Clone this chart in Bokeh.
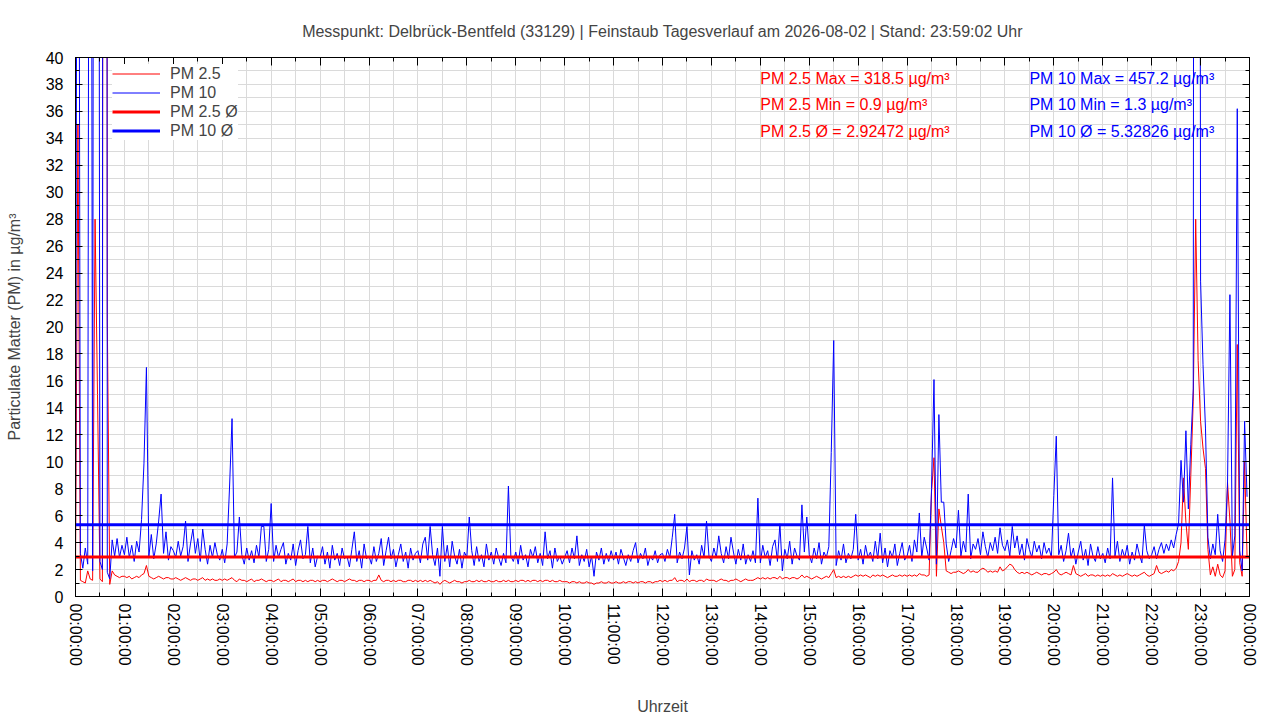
import numpy as np
from bokeh.plotting import figure
from bokeh.models import FixedTicker, LinearAxis, Range1d, Legend, LegendItem
from bokeh.core.properties import value
from bokeh.embed import file_html
from bokeh.resources import INLINE

title_text = "Messpunkt: Delbrück-Bentfeld (33129) | Feinstaub Tagesverlauf am 2026-08-02 | Stand: 23:59:02 Uhr"
x_title = "Uhrzeit"
y_title = "Particulate Matter (PM) in µg/m³"

sample_minutes = 3

# PM 10 readings, one row per hour (3-minute samples)
pm10 = [
    4.0, 95.0, 3.2, 2.1, 3.6, 2.4, 120.0, 1.9, 180.0, 140.0, 2.6, 2.0, 457.2, 1.8, 1.3, 4.2, 3.0, 4.3, 2.9, 3.8,
    3.1, 4.4, 2.9, 3.8, 2.6, 4.1, 3.3, 5.7, 9.9, 17.0, 3.0, 4.6, 2.8, 3.9, 5.6, 7.6, 3.2, 4.8, 2.7, 3.7,
    3.4, 2.9, 4.1, 3.0, 3.7, 5.6, 2.6, 3.9, 5.0, 3.2, 4.3, 2.6, 5.0, 3.5, 2.4, 3.8, 2.9, 4.0, 3.1, 2.7,
    3.5, 2.5, 3.9, 8.2, 13.2, 2.9, 3.3, 5.9, 3.1, 2.4, 3.6, 2.7, 3.4, 2.5, 3.8, 2.9, 5.2, 5.2, 2.6, 3.5,
    6.9, 2.6, 3.8, 2.9, 3.5, 4.0, 2.4, 3.2, 2.7, 3.9, 2.3, 3.4, 4.2, 2.8, 3.1, 5.2, 2.5, 3.6, 2.2, 3.0,
    2.9, 3.7, 2.4, 3.3, 2.1, 3.8, 2.7, 3.2, 2.3, 3.6, 2.8, 3.0, 2.2, 3.5, 4.8, 2.6, 3.4, 2.1, 3.9, 2.8,
    3.0, 2.4, 3.7, 2.6, 3.2, 4.3, 2.3, 3.4, 4.4, 2.8, 3.5, 2.2, 3.1, 3.9, 2.6, 3.3, 2.1, 3.6, 2.7, 3.2,
    3.4, 2.5, 3.9, 4.4, 2.7, 5.2, 3.1, 2.3, 3.6, 1.5, 5.2, 2.6, 3.8, 2.2, 4.1, 3.0, 2.4, 3.5, 2.1, 3.3,
    2.9, 5.9, 3.4, 2.3, 3.7, 2.6, 3.1, 2.2, 3.9, 2.7, 3.3, 2.4, 3.6, 2.9, 2.3, 3.2, 2.5, 8.2, 3.0, 2.6,
    3.3, 2.4, 3.8, 2.7, 3.1, 2.2, 3.5, 2.9, 3.7, 2.5, 3.2, 2.3, 4.8, 2.8, 3.4, 2.1, 3.6, 2.6, 3.0, 2.4,
    2.9, 3.4, 2.5, 3.6, 2.8, 4.5, 2.3, 3.1, 2.6, 3.5, 2.2, 3.0, 1.5, 3.3, 2.7, 3.6, 2.4, 3.2, 2.6, 3.4,
    2.7, 3.3, 2.4, 3.5, 2.9, 2.3, 3.1, 2.6, 3.4, 4.0, 2.5, 3.2, 2.8, 3.6, 2.3, 3.0, 2.7, 3.4, 2.5, 3.1,
    3.2, 2.6, 3.5, 2.9, 4.4, 6.1, 2.5, 3.3, 2.8, 3.6, 5.2, 1.6, 3.4, 2.7, 3.1, 2.4, 3.8, 2.9, 5.6, 3.0,
    2.6, 3.6, 2.9, 4.5, 3.2, 2.5, 3.7, 2.8, 4.4, 3.3, 2.4, 3.5, 2.7, 3.9, 2.4, 3.1, 2.6, 3.4, 2.5, 7.3,
    2.5, 3.8, 2.9, 3.4, 2.3, 3.7, 4.2, 2.6, 5.4, 1.9, 3.5, 2.8, 4.1, 2.4, 3.6, 3.0, 2.7, 6.8, 3.3, 5.9,
    3.1, 2.5, 3.6, 2.8, 4.0, 2.4, 3.3, 2.9, 3.7, 10.7, 19.0, 2.3, 3.4, 2.7, 3.9, 2.5, 3.2, 2.8, 3.5, 6.1,
    2.7, 3.5, 2.4, 3.8, 2.9, 3.3, 2.6, 4.1, 2.8, 4.7, 2.5, 3.6, 2.2, 3.4, 2.9, 3.9, 2.3, 3.2, 4.0, 2.7,
    3.0, 3.8, 2.6, 4.2, 3.3, 6.2, 2.9, 4.4, 3.6, 2.7, 8.0, 16.1, 2.4, 13.5, 7.0, 7.0, 3.9, 2.6, 3.4, 4.3,
    3.6, 6.4, 3.0, 4.1, 3.3, 7.6, 2.8, 3.9, 3.5, 4.3, 3.1, 4.8, 3.7, 2.9, 4.0, 3.4, 4.4, 3.2, 5.1, 3.8,
    3.4, 4.2, 3.0, 5.2, 3.6, 4.5, 3.1, 3.9, 2.7, 4.3, 3.5, 2.9, 4.1, 3.3, 3.8, 2.8, 4.0, 3.2, 3.6, 2.9,
    7.5, 11.9, 3.1, 3.8, 2.6, 3.4, 4.7, 2.9, 3.6, 2.4, 3.3, 4.1, 2.7, 3.5, 2.3, 3.9, 3.0, 2.6, 3.7, 2.8,
    3.2, 2.5, 3.6, 2.8, 8.8, 3.0, 4.1, 2.6, 3.5, 2.9, 3.8, 2.4, 3.3, 2.7, 3.9, 3.1, 2.5, 5.3, 3.4, 2.8,
    3.1, 3.7, 2.8, 3.5, 4.0, 3.2, 3.9, 3.4, 4.2, 3.6, 4.6, 5.4, 10.1, 7.0, 12.3, 6.5, 11.3, 15.4, 250.0, 180.0,
    23.4, 17.2, 12.5, 4.4, 2.8, 3.9, 3.1, 6.1, 3.4, 2.6, 4.2, 8.2, 22.4, 3.0, 4.5, 36.2, 3.4, 1.9, 13.0, 7.4,
]

# PM 2.5 readings, one row per hour (3-minute samples)
pm25 = [
    1.6, 35.0, 1.2, 1.1, 1.0, 1.9, 1.3, 1.2, 28.0, 15.0, 1.3, 1.1, 318.5, 20.6, 0.9, 1.9, 1.6, 1.5, 1.4, 1.5,
    1.5, 1.4, 1.5, 1.3, 1.4, 1.5, 1.4, 1.6, 1.7, 2.3, 1.5, 1.4, 1.3, 1.4, 1.5, 1.4, 1.3, 1.4, 1.4, 1.3,
    1.3, 1.4, 1.3, 1.2, 1.3, 1.4, 1.3, 1.2, 1.3, 1.3, 1.2, 1.3, 1.4, 1.2, 1.3, 1.2, 1.3, 1.2, 1.2, 1.3,
    1.2, 1.3, 1.2, 1.3, 1.4, 1.2, 1.1, 1.3, 1.2, 1.2, 1.1, 1.2, 1.3, 1.1, 1.2, 1.2, 1.3, 1.2, 1.1, 1.2,
    1.2, 1.1, 1.2, 1.3, 1.1, 1.2, 1.2, 1.1, 1.2, 1.3, 1.1, 1.2, 1.2, 1.1, 1.2, 1.1, 1.2, 1.2, 1.1, 1.2,
    1.1, 1.2, 1.2, 1.1, 1.2, 1.3, 1.2, 1.1, 1.2, 1.2, 1.1, 1.2, 1.3, 1.2, 1.2, 1.1, 1.2, 1.2, 1.1, 1.2,
    1.2, 1.1, 1.2, 1.2, 1.6, 1.2, 1.1, 1.2, 1.2, 1.1, 1.2, 1.1, 1.2, 1.2, 1.1, 1.1, 1.2, 1.2, 1.1, 1.2,
    1.1, 1.2, 1.1, 1.2, 1.1, 1.2, 1.1, 1.0, 1.1, 0.9, 1.1, 1.2, 1.1, 1.0, 1.1, 1.2, 1.1, 1.1, 1.0, 1.1,
    1.1, 1.2, 1.1, 1.1, 1.2, 1.1, 1.2, 1.1, 1.1, 1.2, 1.1, 1.1, 1.2, 1.1, 1.1, 1.2, 1.1, 1.2, 1.1, 1.1,
    1.2, 1.1, 1.2, 1.2, 1.1, 1.2, 1.1, 1.2, 1.2, 1.1, 1.2, 1.1, 1.2, 1.2, 1.1, 1.2, 1.1, 1.1, 1.2, 1.1,
    1.1, 1.1, 1.0, 1.1, 1.1, 1.0, 1.1, 1.0, 1.0, 1.1, 1.0, 1.0, 0.9, 1.0, 1.0, 1.1, 1.0, 1.0, 1.1, 1.0,
    1.0, 1.1, 1.0, 1.0, 1.1, 1.0, 1.1, 1.1, 1.0, 1.1, 1.0, 1.1, 1.1, 1.0, 1.1, 1.1, 1.0, 1.1, 1.1, 1.2,
    1.1, 1.2, 1.1, 1.2, 1.2, 1.4, 1.1, 1.2, 1.2, 1.1, 1.3, 1.1, 1.2, 1.2, 1.1, 1.2, 1.2, 1.1, 1.3, 1.2,
    1.2, 1.2, 1.1, 1.2, 1.3, 1.2, 1.2, 1.1, 1.2, 1.2, 1.3, 1.2, 1.1, 1.2, 1.3, 1.2, 1.2, 1.2, 1.3, 1.4,
    1.3, 1.4, 1.3, 1.4, 1.3, 1.4, 1.4, 1.3, 1.5, 1.3, 1.4, 1.4, 1.3, 1.4, 1.4, 1.3, 1.4, 1.6, 1.4, 1.5,
    1.4, 1.3, 1.4, 1.5, 1.4, 1.3, 1.4, 1.5, 1.4, 1.7, 2.0, 1.4, 1.5, 1.4, 1.5, 1.4, 1.5, 1.4, 1.5, 1.6,
    1.5, 1.6, 1.5, 1.6, 1.5, 1.4, 1.6, 1.5, 1.6, 1.5, 1.6, 1.5, 1.4, 1.5, 1.6, 1.5, 1.5, 1.6, 1.5, 1.6,
    1.5, 1.6, 1.5, 1.6, 1.5, 1.7, 1.6, 1.6, 1.5, 1.6, 7.8, 10.3, 1.5, 6.5, 5.2, 4.0, 1.9, 1.8, 1.7, 1.8,
    1.8, 1.9, 1.8, 1.7, 1.8, 2.0, 1.8, 1.9, 1.8, 1.8, 2.0, 2.1, 2.0, 1.8, 1.9, 1.8, 1.9, 1.8, 2.2, 1.9,
    2.0, 2.2, 2.4, 2.3, 2.0, 1.8, 1.7, 1.8, 1.7, 1.8, 1.7, 1.6, 1.7, 1.8, 1.7, 1.6, 1.7, 1.7, 1.6, 1.7,
    1.8, 2.0, 1.7, 1.6, 1.7, 1.8, 1.7, 1.6, 2.3, 1.7, 1.6, 1.5, 1.6, 1.7, 1.5, 1.6, 1.6, 1.5, 1.6, 1.5,
    1.6, 1.5, 1.6, 1.5, 1.7, 1.6, 1.5, 1.6, 1.5, 1.6, 1.7, 1.6, 1.5, 1.6, 1.5, 1.6, 1.7, 1.8, 1.6, 1.5,
    1.6, 1.7, 2.3, 1.8, 1.7, 1.8, 1.9, 1.8, 2.0, 1.9, 2.1, 2.6, 4.0, 8.8, 5.5, 3.5, 9.0, 14.5, 28.0, 17.5,
    13.0, 11.0, 9.5, 3.5, 1.6, 2.2, 1.5, 2.4, 1.6, 1.4, 1.9, 8.5, 5.6, 1.5, 2.0, 18.7, 2.5, 1.5, 10.0, 3.0,
]

pm25_max, pm25_min, pm25_avg = 318.5, 0.9, 2.92472
pm10_max, pm10_min, pm10_avg = 457.2, 1.3, 5.32826

hour_ticks = list(range(0, 25))
hour_labels = ["%02d:00:00" % (h % 24) for h in hour_ticks]
half_hour_ticks = [h + 0.5 for h in range(24)]
y_major = list(range(0, 41, 2))
y_minor = list(range(1, 40, 2))

legend_labels = ["PM 2.5", "PM 10", "PM 2.5 Ø", "PM 10 Ø"]
red_stats = ["PM 2.5 Max = %s µg/m³" % pm25_max,
             "PM 2.5 Min = %s µg/m³" % pm25_min,
             "PM 2.5 Ø = %s µg/m³" % pm25_avg]
blue_stats = ["PM 10 Max = %s µg/m³" % pm10_max,
              "PM 10 Min = %s µg/m³" % pm10_min,
              "PM 10 Ø = %s µg/m³" % pm10_avg]
stats_rows_y = [38.45, 36.5, 34.5]
red_stats_x = 14.0
blue_stats_x = 19.5

times_h = np.arange(len(pm10)) * sample_minutes / 60.0

FONT = "Liberation Sans"
RED = "#ff0000"
BLUE = "#0000ff"
GRID = "#dadada"

p = figure(width=1272, height=717,
           x_range=Range1d(hour_ticks[0], hour_ticks[-1]),
           y_range=Range1d(y_major[0], y_major[-1]),
           output_backend="svg", toolbar_location=None,
           min_border_left=75, min_border_right=23,
           min_border_top=57, min_border_bottom=120)

p.title.text = title_text
p.title.text_font = FONT
p.title.text_font_size = "16px"
p.title.text_font_style = "normal"
p.title.align = "center"
p.title.standoff = 36

p.outline_line_color = "black"
p.outline_line_width = 1
p.background_fill_color = "white"

xticker = FixedTicker(ticks=hour_ticks, minor_ticks=half_hour_ticks)
yticker = FixedTicker(ticks=y_major, minor_ticks=y_minor)

xa = p.xaxis[0]
xa.ticker = xticker
xa.major_label_overrides = {h: lab for h, lab in zip(hour_ticks, hour_labels)}
xa.major_label_orientation = "vertical"
ya = p.yaxis[0]
ya.ticker = yticker

for ax in (xa, ya):
    ax.major_label_text_font = FONT
    ax.major_label_text_font_size = "16px"
    ax.major_label_text_color = "black"
    ax.axis_label_text_font = FONT
    ax.axis_label_text_font_size = "16px"
    ax.axis_label_text_font_style = "normal"
    ax.axis_line_color = "black"
    ax.major_tick_out = 0
    ax.minor_tick_out = 0
    ax.major_tick_line_color = "black"
    ax.minor_tick_line_color = "black"
xa.major_tick_in = 8
xa.minor_tick_in = 4
ya.major_tick_in = 7
ya.minor_tick_in = 4
xa.axis_label = x_title
ya.axis_label = y_title
xa.major_label_standoff = 7
xa.axis_label_standoff = 29
ya.major_label_standoff = 12
ya.axis_label_standoff = 20

# mirrored tick marks on the right and top edges (no labels)
right_ax = LinearAxis(ticker=yticker, major_label_overrides={t: "" for t in y_major},
                      major_label_standoff=0, major_tick_in=7, major_tick_out=0,
                      minor_tick_in=4, minor_tick_out=0)
top_ax = LinearAxis(ticker=xticker, major_label_overrides={t: "" for t in hour_ticks},
                    major_label_standoff=5, major_tick_in=8, major_tick_out=0,
                    minor_tick_in=4, minor_tick_out=0)
p.add_layout(right_ax, "right")
p.add_layout(top_ax, "above")

p.xgrid.ticker = xticker
p.ygrid.ticker = yticker
for g in (p.xgrid, p.ygrid):
    g.grid_line_color = GRID
    g.minor_grid_line_color = GRID
    g.grid_line_width = 1
    g.minor_grid_line_width = 1

# statistics texts (drawn first so that the data lies over them)
p.text(x=[red_stats_x] * 3, y=stats_rows_y, text=red_stats, text_color=RED,
       text_font=value(FONT), text_font_size="16px", text_baseline="middle", text_align="left")
p.text(x=[blue_stats_x] * 3, y=stats_rows_y, text=blue_stats, text_color=BLUE,
       text_font=value(FONT), text_font_size="16px", text_baseline="middle", text_align="left")

r25 = p.line(times_h, pm25, line_color=RED, line_width=1)
r10 = p.line(times_h, pm10, line_color=BLUE, line_width=1)
span_x = [hour_ticks[0], hour_ticks[-1]]
ra25 = p.line(span_x, [pm25_avg, pm25_avg], line_color=RED, line_width=3)
ra10 = p.line(span_x, [pm10_avg, pm10_avg], line_color=BLUE, line_width=3)

legend = Legend(items=[LegendItem(label=lab, renderers=[r]) for lab, r in
                       zip(legend_labels, [r25, r10, ra25, ra10])],
                location=(37, 456))
legend.label_text_font = FONT
legend.label_text_font_size = "16px"
legend.glyph_width = 48
legend.glyph_height = 19
legend.label_height = 19
legend.spacing = 0
legend.padding = 4
legend.margin = 0
legend.label_standoff = 10
legend.background_fill_color = "white"
legend.background_fill_alpha = 1.0
legend.border_line_color = None
p.add_layout(legend)

open("out.html", "w").write(file_html(p, INLINE))
